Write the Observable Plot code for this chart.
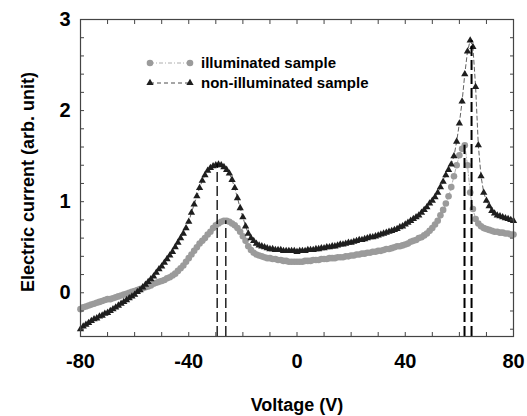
<!DOCTYPE html>
<html><head><meta charset="utf-8">
<script src="https://cdn.jsdelivr.net/npm/d3@7"></script>
<script src="https://cdn.jsdelivr.net/npm/@observablehq/plot@0.6"></script>
<style>
body{margin:0;background:#fff}
#chart svg{font-family:"Liberation Sans",Arial,sans-serif}
</style>
</head><body><div id="chart"></div>
<script>
// Voltage grid (V)
const voltage = [
-80,-79,-78,-77,-76,-75,-74,-73,-72,-71,
-70,-69,-68,-67,-66,-65,-64,-63,-62,-61,
-60,-59,-58,-57,-56,-55,-54,-53,-52,-51,
-50,-49,-48,-47,-46,-45,-44,-43,-42,-41,
-40,-39,-38,-37,-36,-35,-34,-33,-32,-31,
-30,-29,-28,-27,-26,-25,-24,-23,-22,-21,
-20,-19,-18,-17,-16,-15,-14,-13,-12,-11,
-10,-9,-8,-7,-6,-5,-4,-3,-2,-1,
0,1,2,3,4,5,6,7,8,9,
10,11,12,13,14,15,16,17,18,19,
20,21,22,23,24,25,26,27,28,29,
30,31,32,33,34,35,36,37,38,39,
40,41,42,43,44,45,46,47,48,49,
50,51,52,53,54,55,56,57,58,59,
60,61,62,63,64,65,66,67,68,69,
70,71,72,73,74,75,76,77,78,79,
80];

// Illuminated sample (gray circles)
const illuminated = [
-0.18,-0.16,-0.15,-0.14,-0.13,-0.12,-0.11,-0.10,-0.09,-0.08,
-0.07,-0.07,-0.06,-0.05,-0.04,-0.03,-0.02,-0.01,0.00,0.01,
0.02,0.03,0.04,0.05,0.06,0.07,0.08,0.10,0.11,0.12,
0.13,0.14,0.16,0.17,0.19,0.21,0.24,0.27,0.30,0.34,
0.38,0.42,0.46,0.50,0.54,0.57,0.60,0.64,0.67,0.71,
0.74,0.76,0.78,0.79,0.79,0.78,0.76,0.74,0.71,0.67,
0.62,0.57,0.51,0.47,0.44,0.42,0.41,0.40,0.39,0.38,
0.38,0.37,0.37,0.36,0.36,0.35,0.35,0.34,0.34,0.34,
0.34,0.34,0.34,0.35,0.35,0.35,0.36,0.36,0.36,0.37,
0.37,0.37,0.38,0.38,0.38,0.39,0.39,0.39,0.40,0.40,
0.41,0.41,0.42,0.42,0.43,0.43,0.44,0.44,0.45,0.45,
0.46,0.46,0.47,0.48,0.48,0.49,0.50,0.51,0.51,0.52,
0.53,0.54,0.56,0.57,0.58,0.60,0.61,0.63,0.65,0.68,
0.71,0.75,0.79,0.85,0.91,0.98,1.06,1.16,1.28,1.40,
1.51,1.58,1.62,1.40,1.10,0.92,0.81,0.76,0.73,0.71,
0.70,0.69,0.68,0.67,0.67,0.66,0.66,0.65,0.65,0.64,
0.64];

// Non-illuminated sample (black triangles)
const nonIlluminated = [
-0.40,-0.37,-0.35,-0.33,-0.31,-0.29,-0.28,-0.26,-0.25,-0.23,
-0.22,-0.20,-0.18,-0.16,-0.14,-0.12,-0.10,-0.08,-0.06,-0.04,
-0.02,0.01,0.03,0.06,0.09,0.12,0.15,0.18,0.22,0.26,
0.29,0.33,0.37,0.41,0.45,0.50,0.55,0.60,0.65,0.71,
0.78,0.88,0.97,1.06,1.15,1.23,1.29,1.34,1.37,1.39,
1.40,1.41,1.40,1.38,1.35,1.31,1.24,1.15,1.04,0.93,
0.83,0.73,0.65,0.60,0.57,0.54,0.52,0.51,0.50,0.49,
0.48,0.48,0.47,0.47,0.47,0.46,0.46,0.46,0.46,0.46,
0.45,0.46,0.46,0.46,0.47,0.47,0.47,0.48,0.48,0.49,
0.49,0.50,0.50,0.51,0.51,0.52,0.53,0.53,0.54,0.55,
0.55,0.56,0.57,0.58,0.58,0.59,0.60,0.61,0.61,0.62,
0.63,0.64,0.65,0.66,0.67,0.68,0.69,0.70,0.72,0.73,
0.75,0.77,0.79,0.81,0.83,0.85,0.88,0.91,0.94,0.98,
1.01,1.05,1.10,1.16,1.22,1.29,1.35,1.41,1.50,1.66,
1.86,2.10,2.40,2.65,2.77,2.70,2.26,1.62,1.28,1.10,
1.01,0.95,0.90,0.87,0.85,0.84,0.83,0.82,0.81,0.80,
0.79];

// Peak markers (dashed verticals)
const peakVoltage = [-29.5, -26.3, 61.9, 64.5];
const peakCurrent = [1.41, 0.79, 1.62, 2.77];

// Axis ticks
const xMajorTicks = [-80, -40, 0, 40, 80];
const xMinorTicks = [-80,-70,-60,-50,-40,-30,-20,-10,0,10,20,30,40,50,60,70,80];
const yMajorTicks = [0, 1, 2, 3];
const yMinorTicks = [-0.4,-0.2,0,0.2,0.4,0.6,0.8,1,1.2,1.4,1.6,1.8,2,2.2,2.4,2.6,2.8,3];

const legendLabels = ["illuminated sample", "non-illuminated sample"];
const xLabel = "Voltage (V)";
const yLabel = "Electric current (arb. unit)";

const yDomain = [-0.48, 3];
const illumData = voltage.map((v, i) => ({v, c: illuminated[i]}));
const nonData = voltage.map((v, i) => ({v, c: nonIlluminated[i]}));
const peaks = peakVoltage.map((v, i) => ({v, c: peakCurrent[i], w: i < 2 ? 1.3 : 2}));

const GRAY = "#9b9b9b", DARK = "#1e1e1e", AX = "#444";

const plot = Plot.plot({
  width: 527, height: 416,
  marginLeft: 80, marginRight: 14, marginTop: 19, marginBottom: 80,
  style: {fontFamily: "Liberation Sans, Arial, sans-serif", background: "white", color: "black"},
  x: {domain: [-80, 80], axis: null},
  y: {domain: yDomain, axis: null},
  marks: [
    Plot.line(illumData, {x: "v", y: "c", stroke: GRAY, strokeWidth: 0.8, strokeDasharray: "4,2,1,2"}),
    Plot.line(nonData, {x: "v", y: "c", stroke: DARK, strokeWidth: 0.7, strokeDasharray: "4,3"}),
    Plot.dot(illumData, {x: "v", y: "c", r: 3.3, fill: GRAY, stroke: "none"}),
    Plot.dot(nonData, {x: "v", y: "c", symbol: "triangle", r: 2.7, fill: DARK, stroke: "none"}),
    Plot.ruleX(peaks, {x: "v", y1: yDomain[0], y2: "c", stroke: "black", strokeWidth: "w", strokeDasharray: "10,4"}),
    Plot.frame({stroke: AX, strokeWidth: 1.2}),
    Plot.axisX(xMinorTicks, {anchor: "bottom", tickSize: -4, text: null, label: null, stroke: AX}),
    Plot.axisX(xMinorTicks, {anchor: "top", tickSize: -4, text: null, label: null, stroke: AX}),
    Plot.axisY(yMinorTicks, {anchor: "left", tickSize: -4, text: null, label: null, stroke: AX}),
    Plot.axisY(yMinorTicks, {anchor: "right", tickSize: -4, text: null, label: null, stroke: AX}),
    Plot.axisX(xMajorTicks, {anchor: "bottom", tickSize: 0, tickPadding: 17, fontSize: 20, fontWeight: "bold", tickFormat: d => String(d), label: null}),
    Plot.axisY(yMajorTicks, {anchor: "left", tickSize: 0, tickPadding: 10, fontSize: 20, fontWeight: "bold", tickFormat: d => String(d), label: null}),
    Plot.text([xLabel], {frameAnchor: "bottom", dy: 69, text: d => d, fontSize: 18, fontWeight: "bold", textAnchor: "middle", lineAnchor: "middle"}),
    Plot.text([yLabel], {frameAnchor: "left", dx: -52, dy: 4, rotate: -90, text: d => d, fontSize: 18, fontWeight: "bold", textAnchor: "middle", lineAnchor: "middle"})
  ]
});

// Legend (inside plot area, upper left)
const svg = d3.select(plot);
const lg = svg.append("g")
  .attr("font-family", "Liberation Sans, Arial, sans-serif")
  .attr("font-weight", "bold").attr("font-size", 15).attr("text-anchor", "start");
const rows = [
  {y: 63, color: GRAY, dash: "4,2,1,2", sym: d3.symbolCircle, size: Math.PI * 3.3 * 3.3},
  {y: 83, color: DARK, dash: "4,3", sym: d3.symbolTriangle, size: Math.PI * 2.7 * 2.7}
];
rows.forEach((r, i) => {
  lg.append("line").attr("x1", 150).attr("x2", 190).attr("y1", r.y).attr("y2", r.y)
    .attr("stroke", r.color).attr("stroke-width", 0.8).attr("stroke-dasharray", r.dash);
  [150, 190].forEach(x => lg.append("path").attr("d", d3.symbol(r.sym, r.size)())
    .attr("transform", `translate(${x},${r.y})`).attr("fill", r.color));
  lg.append("text").attr("x", 201).attr("y", r.y + 5).attr("fill", "black").text(legendLabels[i]);
});

document.getElementById("chart").appendChild(plot);
</script>
</body></html>
